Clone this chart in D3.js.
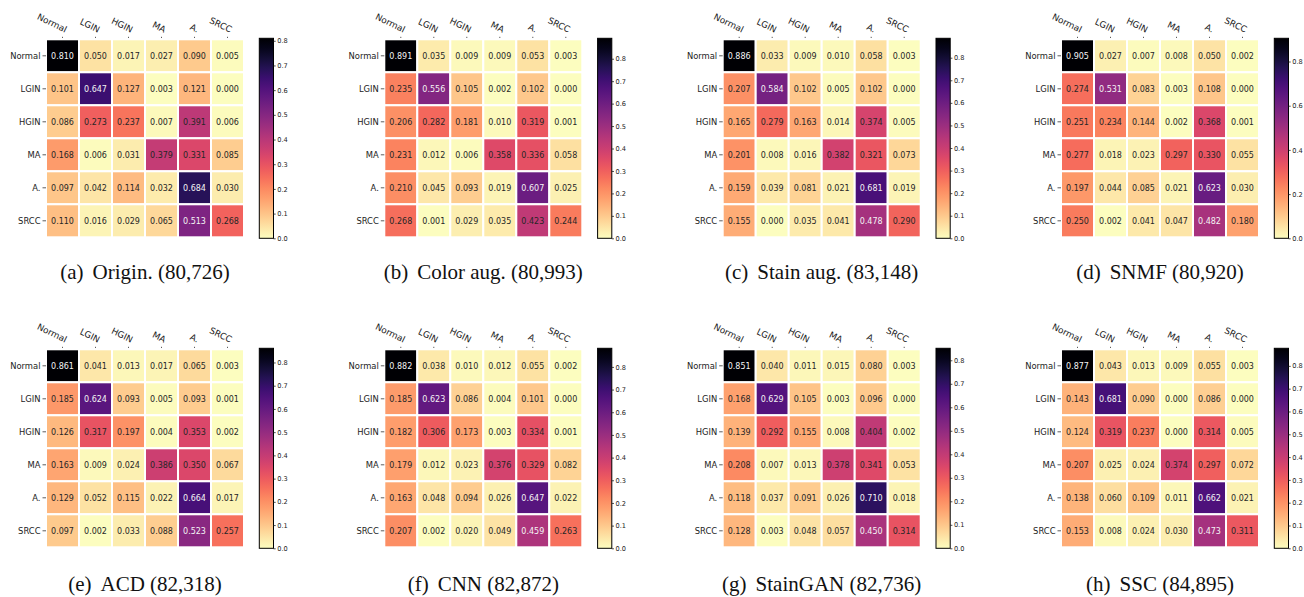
<!DOCTYPE html>
<html>
<head>
<meta charset="utf-8">
<script src="https://cdn.jsdelivr.net/npm/d3@7"></script>
<style>
  html, body { margin: 0; padding: 0; background: #fff; }
  svg { display: block; }
</style>
</head>
<body>
<svg id="chart" width="1304" height="597"></svg>
<script>
// ---------------- data ----------------
const categories = ["Normal", "LGIN", "HGIN", "MA", "A.", "SRCC"];

const origin = [
  [0.810,0.050,0.017,0.027,0.090,0.005],
  [0.101,0.647,0.127,0.003,0.121,0.000],
  [0.086,0.273,0.237,0.007,0.391,0.006],
  [0.168,0.006,0.031,0.379,0.331,0.085],
  [0.097,0.042,0.114,0.032,0.684,0.030],
  [0.110,0.016,0.029,0.065,0.513,0.268]
];
const colorAug = [
  [0.891,0.035,0.009,0.009,0.053,0.003],
  [0.235,0.556,0.105,0.002,0.102,0.000],
  [0.206,0.282,0.181,0.010,0.319,0.001],
  [0.231,0.012,0.006,0.358,0.336,0.058],
  [0.210,0.045,0.093,0.019,0.607,0.025],
  [0.268,0.001,0.029,0.035,0.423,0.244]
];
const stainAug = [
  [0.886,0.033,0.009,0.010,0.058,0.003],
  [0.207,0.584,0.102,0.005,0.102,0.000],
  [0.165,0.279,0.163,0.014,0.374,0.005],
  [0.201,0.008,0.016,0.382,0.321,0.073],
  [0.159,0.039,0.081,0.021,0.681,0.019],
  [0.155,0.000,0.035,0.041,0.478,0.290]
];
const snmf = [
  [0.905,0.027,0.007,0.008,0.050,0.002],
  [0.274,0.531,0.083,0.003,0.108,0.000],
  [0.251,0.234,0.144,0.002,0.368,0.001],
  [0.277,0.018,0.023,0.297,0.330,0.055],
  [0.197,0.044,0.085,0.021,0.623,0.030],
  [0.250,0.002,0.041,0.047,0.482,0.180]
];
const acd = [
  [0.861,0.041,0.013,0.017,0.065,0.003],
  [0.185,0.624,0.093,0.005,0.093,0.001],
  [0.126,0.317,0.197,0.004,0.353,0.002],
  [0.163,0.009,0.024,0.386,0.350,0.067],
  [0.129,0.052,0.115,0.022,0.664,0.017],
  [0.097,0.002,0.033,0.088,0.523,0.257]
];
const cnn = [
  [0.882,0.038,0.010,0.012,0.055,0.002],
  [0.185,0.623,0.086,0.004,0.101,0.000],
  [0.182,0.306,0.173,0.003,0.334,0.001],
  [0.179,0.012,0.023,0.376,0.329,0.082],
  [0.163,0.048,0.094,0.026,0.647,0.022],
  [0.207,0.002,0.020,0.049,0.459,0.263]
];
const stainGan = [
  [0.851,0.040,0.011,0.015,0.080,0.003],
  [0.168,0.629,0.105,0.003,0.096,0.000],
  [0.139,0.292,0.155,0.008,0.404,0.002],
  [0.208,0.007,0.013,0.378,0.341,0.053],
  [0.118,0.037,0.091,0.026,0.710,0.018],
  [0.128,0.003,0.048,0.057,0.450,0.314]
];
const ssc = [
  [0.877,0.043,0.013,0.009,0.055,0.003],
  [0.143,0.681,0.090,0.000,0.086,0.000],
  [0.124,0.319,0.237,0.000,0.314,0.005],
  [0.207,0.025,0.024,0.374,0.297,0.072],
  [0.138,0.060,0.109,0.011,0.662,0.021],
  [0.153,0.008,0.024,0.030,0.473,0.311]
];

const panelLetters = ["(a)", "(b)", "(c)", "(d)", "(e)", "(f)", "(g)", "(h)"];
const panelNames = ["Origin. (80,726)", "Color aug. (80,993)", "Stain aug. (83,148)", "SNMF (80,920)",
                    "ACD (82,318)", "CNN (82,872)", "StainGAN (82,736)", "SSC (84,895)"];
const colorbarSteps = [0.1, 0.1, 0.1, 0.2, 0.1, 0.1, 0.1, 0.1];
const matrices = [origin, colorAug, stainAug, snmf, acd, cnn, stainGan, ssc];

// ---------------- layout ----------------
const svg = d3.select("#chart");
const colLefts = [46, 384.3, 722.7, 1061];
const rowTops = [39.3, 349.3];
const captionBaselines = [278.5, 591];
const gridSize = 198;
const cbGap = 15.3, cbWidth = 14.2;

const defs = svg.append("defs");
const grad = defs.append("linearGradient").attr("id", "magmaGrad")
  .attr("x1", 0).attr("y1", 1).attr("x2", 0).attr("y2", 0);
d3.range(0, 1.0001, 0.05).forEach(t => {
  grad.append("stop").attr("offset", t).attr("stop-color", d3.interpolateMagma(1 - t));
});

matrices.forEach((mat, p) => {
  const left = colLefts[p % 4];
  const top = rowTops[Math.floor(p / 4)];
  const vmax = d3.max(mat.flat());
  const norm = d3.scaleLinear().domain([0, vmax]).range([0, 1]);
  const color = d3.scaleSequential(t => d3.interpolateMagma(1 - t)).domain([0, vmax]);

  const x = d3.scaleBand().domain(categories).range([left, left + gridSize]);
  const y = d3.scaleBand().domain(categories).range([top, top + gridSize]);

  const g = svg.append("g");
  const cells = [];
  mat.forEach((row, i) => row.forEach((v, j) => cells.push({ r: categories[i], c: categories[j], v })));

  g.selectAll("rect.cell").data(cells).join("rect")
    .attr("class", "cell")
    .attr("x", d => x(d.c)).attr("y", d => y(d.r))
    .attr("width", x.bandwidth()).attr("height", y.bandwidth())
    .attr("fill", d => color(d.v))
    .attr("stroke", "#fff").attr("stroke-width", 2);

  g.selectAll("text.val").data(cells).join("text")
    .attr("class", "val")
    .attr("x", d => x(d.c) + x.bandwidth() / 2)
    .attr("y", d => y(d.r) + y.bandwidth() / 2)
    .attr("dy", "0.35em")
    .attr("text-anchor", "middle")
    .attr("font-family", "DejaVu Sans")
    .attr("font-size", 8)
    .attr("fill", d => norm(d.v) > 0.5 ? "#f4f4f4" : "#262626")
    .text(d => d.v.toFixed(3));

  // y axis
  const ya = g.append("g").attr("transform", `translate(${left},0)`)
    .call(d3.axisLeft(y).tickSize(3.5).tickPadding(2));
  ya.select(".domain").remove();
  ya.selectAll("line").attr("stroke", "#333").attr("stroke-width", 0.8);
  ya.selectAll("text").attr("font-family", "DejaVu Sans").attr("font-size", 8.4).attr("fill", "#222");

  // x axis on top
  const xa = g.append("g").attr("transform", `translate(0,${top})`)
    .call(d3.axisTop(x).tickSize(2.5).tickPadding(0));
  xa.select(".domain").remove();
  xa.selectAll("line").attr("stroke", "#333").attr("stroke-width", 0.8)
    .attr("y1", -2.5).attr("y2", -1.3);
  xa.selectAll("text")
    .attr("font-family", "DejaVu Sans").attr("font-size", 8.8).attr("fill", "#222")
    .attr("text-anchor", "end")
    .attr("x", 0).attr("y", 0).attr("dy", 0)
    .attr("transform", "translate(2.5,-6.5) rotate(26)");

  // colorbar
  const cbX = left + gridSize + cbGap;
  const cbTop = top - 1, cbBottom = top + gridSize + 1;
  g.append("rect").attr("x", cbX).attr("y", cbTop)
    .attr("width", cbWidth).attr("height", cbBottom - cbTop)
    .attr("fill", "url(#magmaGrad)")
    .attr("stroke", "#000").attr("stroke-width", 1);
  const cbScale = d3.scaleLinear().domain([0, vmax]).range([cbBottom, cbTop]);
  const step = colorbarSteps[p];
  const tv = d3.range(0, vmax + 1e-9, step).map(v => +v.toFixed(2));
  const ca = g.append("g").attr("transform", `translate(${cbX + cbWidth},0)`)
    .call(d3.axisRight(cbScale).tickValues(tv).tickFormat(d3.format(".1f")).tickSize(2.2).tickPadding(1.5));
  ca.select(".domain").remove();
  ca.selectAll("line").attr("stroke", "#222").attr("stroke-width", 0.8);
  ca.selectAll("text").attr("font-family", "DejaVu Sans").attr("font-size", 6.6).attr("fill", "#222");

  // caption
  const cap = svg.append("text")
    .attr("x", left + gridSize / 2)
    .attr("y", captionBaselines[Math.floor(p / 4)])
    .attr("text-anchor", "middle")
    .attr("font-family", "Liberation Serif")
    .attr("font-size", 21)
    .attr("fill", "#111");
  cap.append("tspan").text(panelLetters[p]);
  cap.append("tspan").attr("dx", 9).text(panelNames[p]);
});
</script>
</body>
</html>
